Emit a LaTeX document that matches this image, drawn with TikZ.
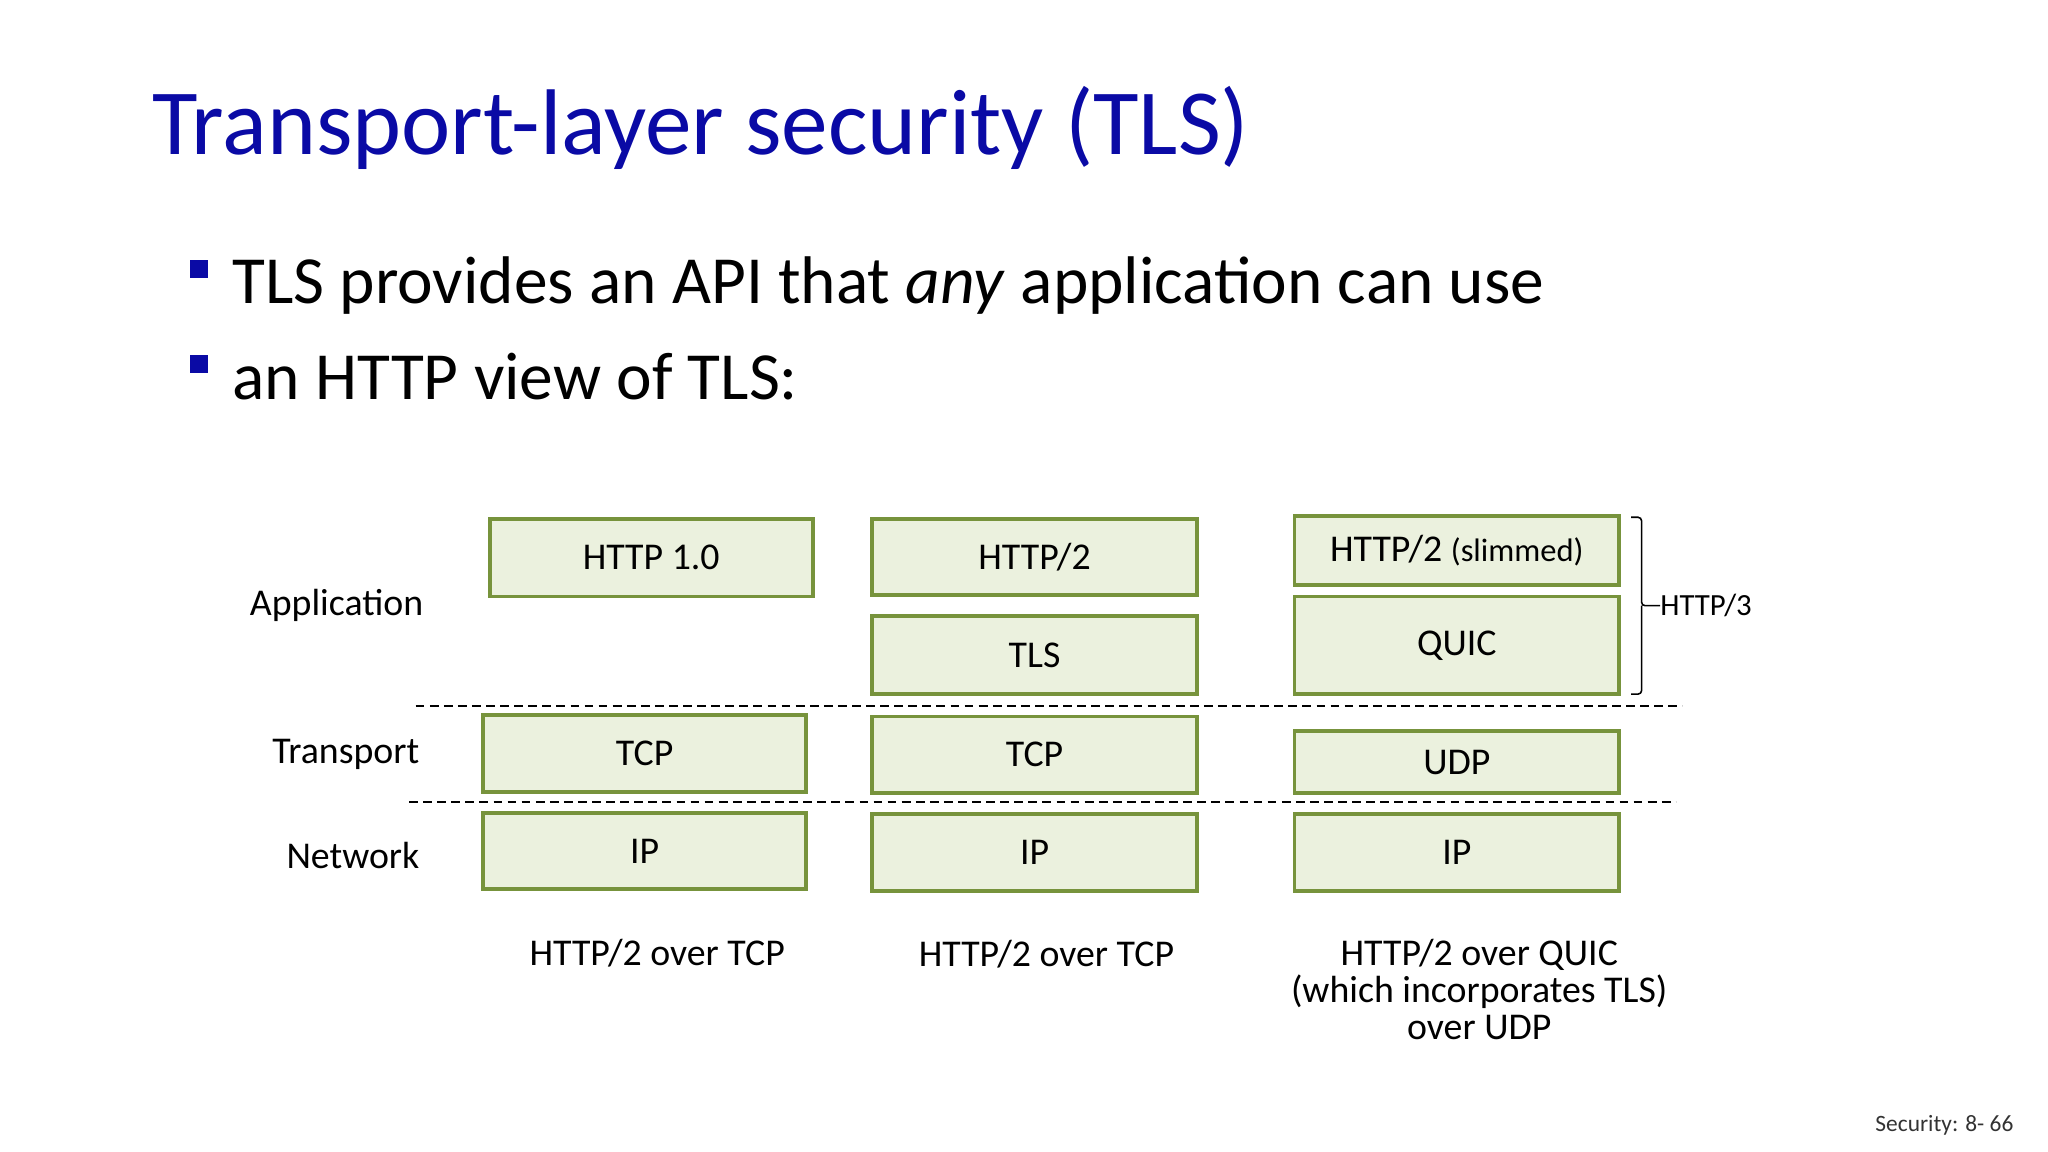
\documentclass[tikz,border=0pt]{standalone}
\usepackage{fontspec}
\setmainfont{Carlito}
\definecolor{tblue}{HTML}{0A0AA5}
\definecolor{bfill}{HTML}{EBF1DE}
\definecolor{bdraw}{HTML}{77933C}
\begin{document}
\begin{tikzpicture}[x=0.75pt,y=-0.75pt,
  box/.style={draw=bdraw,fill=bfill,line width=2.2pt,inner sep=0pt,font=\fontsize{21.5}{24}\selectfont},
  lab/.style={font=\fontsize{21.5}{24}\selectfont,inner sep=0pt},
  sep/.style={line width=1pt,dash pattern=on 5pt off 3pt}]
\useasboundingbox (0,0) rectangle (1552,873);
\node[anchor=base west,text=tblue,font=\fontsize{53}{60}\selectfont,inner sep=0pt] (title) at (115,117) {Transport-layer security (TLS)};
\node[fill=tblue,minimum size=10.5pt,inner sep=0pt] (b1) at (151,204) {};
\node[fill=tblue,minimum size=10.5pt,inner sep=0pt] (b2) at (151,276) {};
\node[anchor=base west,font=\fontsize{38.3}{44}\selectfont,inner sep=0pt] (t1) at (176,230) {TLS provides an API that \textit{any} application can use};
\node[anchor=base west,font=\fontsize{38.3}{44}\selectfont,inner sep=0pt] (t2) at (176,303) {an HTTP view of TLS:};
% boxes
\newcommand{\bx}[6]{\node[box,minimum width={(#4-#2)*0.75pt},minimum height={(#5-#3)*0.75pt}] (#1) at ({(#2+#4)/2},{(#3+#5)/2}) {#6};}
\bx{h10}{371}{393}{616}{452}{HTTP 1.0}
\bx{tcp1}{366}{542}{611}{600}{TCP}
\bx{ip1}{366}{616}{611}{674}{IP}
\bx{h2}{661}{393}{907}{451}{HTTP/2}
\bx{tls}{661}{467}{907}{526}{TLS}
\bx{tcp2}{661}{543}{907}{601}{TCP}
\bx{ip2}{661}{617}{907}{675}{IP}
\bx{h2s}{981}{391}{1227}{443}{HTTP/2 {\fontsize{18.5}{21}\selectfont(slimmed)}}
\bx{quic}{981}{452}{1227}{526}{QUIC}
\bx{udp}{981}{554}{1227}{601}{UDP}
\bx{ip3}{981}{617}{1227}{675}{IP}
\coordinate (d1a) at (315,535); \coordinate (d1b) at (1275,535);
\coordinate (d2a) at (310,608); \coordinate (d2b) at (1270,608);
\draw[sep] (d1a) -- (d1b);
\draw[sep] (d2a) -- (d2b);
% brace
\coordinate (bt) at (1236,392); \coordinate (bb) at (1236,526);
\node[lab,anchor=west,font=\fontsize{17.5}{20}\selectfont] (h3) at (1258,459) {HTTP/3};
\draw[line width=0.9pt,rounded corners=2pt] (bt) -- (1244,392) -- (1244,459) -- (h3.west) (1244,459) -- (1244,526) -- (bb);
\node[lab,anchor=east] (app) at (321,459) {Application};
\node[lab,anchor=east] (tr) at (318,572) {Transport};
\node[lab,anchor=east] (nw) at (318,648) {Network};
\node[lab] (c1) at (498,722) {HTTP/2 over TCP};
\node[lab] (c2) at (793,723) {HTTP/2 over TCP};
\node[lab,align=center,font=\fontsize{21.5}{21}\selectfont] (c3) at (1121,750) {HTTP/2 over QUIC\\(which incorporates TLS)\\over UDP};
\node[anchor=east,font=\fontsize{13.3}{15}\selectfont,inner sep=0pt,text=black!80] (ft) at (1526,853) {Security: 8- 66};
\end{tikzpicture}
\end{document}
